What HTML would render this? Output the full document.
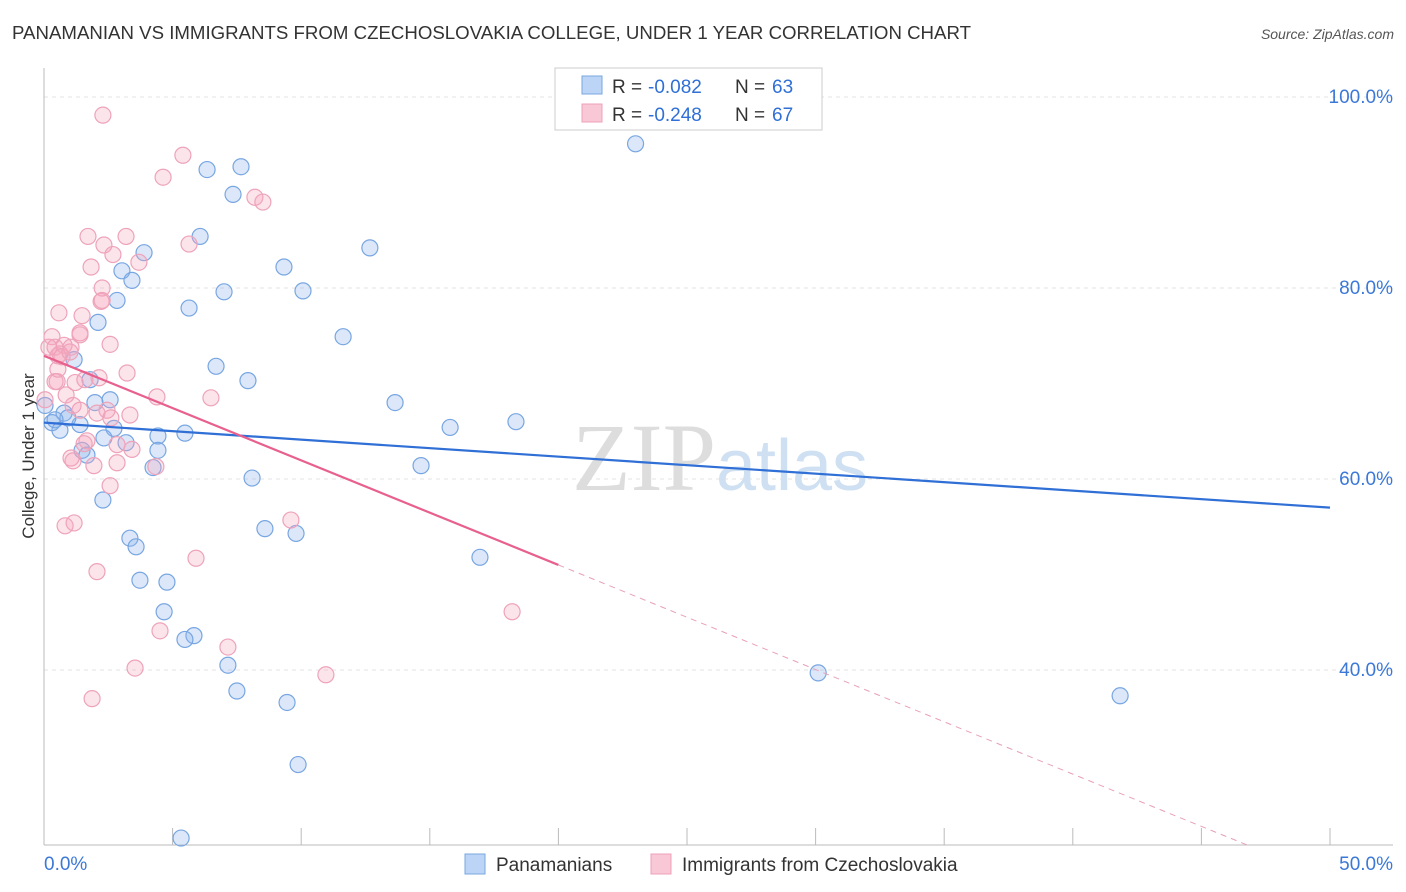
<!DOCTYPE html>
<html><head><meta charset="utf-8"><style>
body{margin:0;background:#fff;font-family:"Liberation Sans",sans-serif}
svg{display:block}
</style></head><body>
<svg id="chart" width="1406" height="892">
<text x="12" y="39" font-size="18" fill="#333" textLength="959" lengthAdjust="spacingAndGlyphs">PANAMANIAN VS IMMIGRANTS FROM CZECHOSLOVAKIA COLLEGE, UNDER 1 YEAR CORRELATION CHART</text>
<text x="1394" y="39" font-size="14" fill="#555" font-style="italic" text-anchor="end">Source: ZipAtlas.com</text>
<text transform="translate(34,456) rotate(-90)" font-size="17" fill="#333" text-anchor="middle">College, Under 1 year</text>
<g id="grid"></g>
<text x="720" y="490" font-size="96" fill="#ddd" text-anchor="middle" font-family="Liberation Serif,serif">ZIP<tspan fill="#cfe0f3" font-family="Liberation Sans,sans-serif" font-size="72">atlas</tspan></text>
<g id="marks"></g>
<g>
<rect x="555" y="68" width="267" height="62" fill="#fff" stroke="#ccc"/>
<rect x="582" y="76" width="20" height="18" fill="#bcd4f5" stroke="#7aa7e0"/>
<rect x="582" y="104" width="20" height="18" fill="#f9c8d6" stroke="#eea0b8"/>
<text y="93" font-size="19" fill="#333"><tspan x="612">R =</tspan><tspan x="648" fill="#2f6fd6">-0.082</tspan><tspan x="735">N =</tspan><tspan x="772" fill="#2f6fd6">63</tspan></text>
<text y="121" font-size="19" fill="#333"><tspan x="612">R =</tspan><tspan x="648" fill="#2f6fd6">-0.248</tspan><tspan x="735">N =</tspan><tspan x="772" fill="#2f6fd6">67</tspan></text>
</g>
<g>
<rect x="465" y="854" width="20" height="20" fill="#bcd4f5" stroke="#7aa7e0"/>
<text x="496" y="871" font-size="19" fill="#333">Panamanians</text>
<rect x="651" y="854" width="20" height="20" fill="#f9c8d6" stroke="#eea0b8"/>
<text x="682" y="871" font-size="19" fill="#333">Immigrants from Czechoslovakia</text>
</g>
</svg>
<script>
const yTicks=[40,60,80,100];
const yTickLabels=["40.0%","60.0%","80.0%","100.0%"];
const xTickLabels=["0.0%","50.0%"];
const blueX=[23.0,6.34,7.66,7.35,6.07,3.89,12.67,3.03,3.42,9.33,2.84,5.64,7.0,10.07,2.1,11.63,1.17,6.69,7.93,1.79,13.65,2.57,1.98,0.78,15.79,18.35,0.31,0.62,1.4,2.72,2.33,5.48,4.43,3.19,1.48,1.67,4.43,4.24,14.66,8.09,2.29,8.59,9.8,3.34,3.58,16.95,3.73,4.78,4.67,5.83,5.48,7.15,30.1,41.84,7.5,9.45,9.88,5.33,24.26,0.93,0.43,0.04];
const blueY=[95.1,92.4,92.7,89.8,85.4,83.7,84.2,81.8,80.8,82.2,78.7,77.9,79.6,79.7,76.4,74.9,72.5,71.8,70.3,70.4,68.0,68.3,68.0,66.9,65.4,66.0,65.9,65.1,65.7,65.3,64.3,64.8,64.5,63.8,63.0,62.5,63.0,61.2,61.4,60.1,57.8,54.8,54.3,53.8,52.9,51.8,49.4,49.2,46.1,43.6,43.2,40.5,39.7,37.3,37.8,36.6,30.1,22.4,101.8,66.4,66.2,67.7];
const pinkX=[2.29,5.4,4.63,8.2,8.51,1.71,3.19,2.33,5.64,2.68,3.69,1.83,2.26,2.22,0.58,1.48,1.4,0.31,1.4,2.57,0.78,0.43,0.62,1.05,0.54,2.14,3.23,0.51,1.21,4.39,6.49,1.13,2.45,2.06,2.6,1.67,1.56,2.84,3.42,1.05,1.13,1.94,2.84,4.35,2.57,0.82,1.17,9.6,2.06,5.91,18.2,4.51,7.15,3.54,10.96,1.87,0.04,0.19,0.43,0.86,2.26,1.4,0.7,1.01,1.59,3.34,0.54];
const pinkY=[98.1,93.9,91.6,89.5,89.0,85.4,85.4,84.5,84.6,83.5,82.7,82.2,80.0,78.6,77.4,77.1,75.3,74.9,75.1,74.1,74.0,73.8,73.1,73.8,72.9,70.6,71.1,70.2,70.1,68.6,68.5,67.7,67.2,66.9,66.4,64.0,63.7,63.6,63.1,62.2,61.9,61.4,61.7,61.3,59.3,55.1,55.4,55.7,50.3,51.7,46.1,44.1,42.4,40.2,39.5,37.0,68.3,73.8,70.2,68.8,78.7,67.2,72.8,73.3,70.4,66.7,71.5];
const blueLine=[65.9,57.0];
const pinkLine=[72.9,-1.095];
const pinkSolidEnd=20.0;
const X=v=>44+v*25.72, Y=v=>1052-v*9.55;
const NS="http://www.w3.org/2000/svg";
const g=document.getElementById('grid'), m=document.getElementById('marks');
function mk(p,tag,a){const e=document.createElementNS(NS,tag);for(const k in a)e.setAttribute(k,a[k]);p.appendChild(e);return e;}
yTicks.forEach((t,i)=>{
 const l=mk(g,'line',{x1:44,x2:1393,y1:Y(t),y2:Y(t),stroke:'#e3e3e3','stroke-dasharray':'4,4'});
 
 
 const tx=mk(g,'text',{x:1393,y:Y(t)+6,'font-size':19,fill:'#3b78d8','text-anchor':'end'});tx.textContent=yTickLabels[i];
 
 
});
mk(g,'line',{x1:44,x2:44,y1:68,y2:845,stroke:'#bbb'});
mk(g,'line',{x1:44,x2:1393,y1:845,y2:845,stroke:'#bbb'});
for(let i=0;i<=10;i++){const l=mk(g,'line',{x1:X(i*5),x2:X(i*5),y1:828,y2:845,stroke:'#bbb'});}
[[0,'start',44],[50,'end',1393]].forEach((d,i)=>{const t=mk(g,'text',{x:d[2],y:870,'font-size':19,fill:'#3b78d8','text-anchor':d[1]});t.textContent=xTickLabels[i];
 
 });
blueX.forEach((x,i)=>{const c=mk(m,'circle',{cx:X(x),cy:Y(blueY[i]),r:8,fill:'rgba(140,180,235,0.3)',stroke:'#78a6e2','stroke-width':1.2});
 
 });
pinkX.forEach((x,i)=>{const c=mk(m,'circle',{cx:X(x),cy:Y(pinkY[i]),r:8,fill:'rgba(245,165,190,0.3)',stroke:'#eea3ba','stroke-width':1.2});
 
 });
const bl=mk(m,'line',{x1:X(0),y1:Y(blueLine[0]),x2:X(50),y2:Y(blueLine[1]),stroke:'#2f6fd6','stroke-width':2.2});


const pf=x=>pinkLine[0]+pinkLine[1]*x;
const pl=mk(m,'line',{x1:X(0),y1:Y(pf(0)),x2:X(pinkSolidEnd),y2:Y(pf(pinkSolidEnd)),stroke:'#e8608e','stroke-width':2.2});


const xEnd=(Y(0)-845)/9.55; const xe=(xEnd-pinkLine[0])/pinkLine[1];
const pd=mk(m,'line',{x1:X(pinkSolidEnd),y1:Y(pf(pinkSolidEnd)),x2:X(xe),y2:845,stroke:'#e8a0b8','stroke-width':1,'stroke-dasharray':'6,5'});


</script>
</body></html>
